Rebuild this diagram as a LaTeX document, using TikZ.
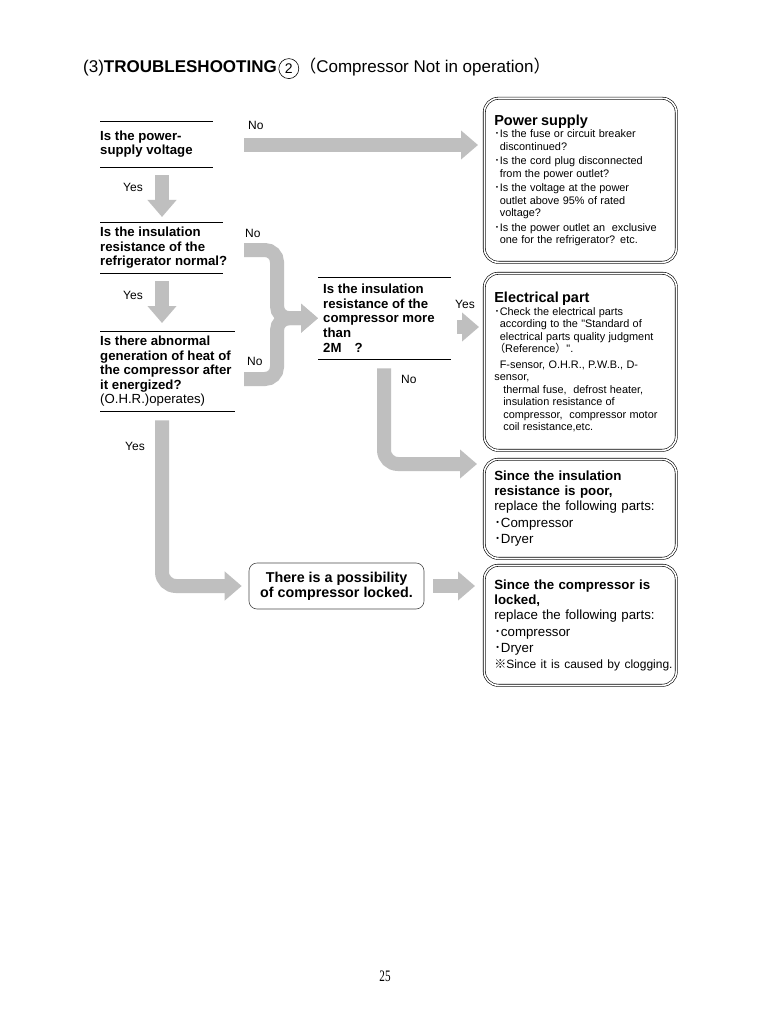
\documentclass[tikz,border=0pt]{standalone}
\usepackage{fontspec}
\setmainfont{Liberation Sans}
\newfontfamily\cjk{Noto Sans CJK JP}
\newfontfamily\pagefont{Liberation Serif}
\font\straightq="Liberation Sans" at 10.9pt
\usetikzlibrary{arrows.meta,positioning}

\newcommand{\qsize}{\fontsize{13.2pt}{14.6pt}\selectfont\bfseries}
\newcommand{\boxhead}{\fontsize{14.5pt}{16pt}\selectfont\bfseries}
\newcommand{\notesize}{\fontsize{10.9pt}{12.5pt}\selectfont}
\newcommand{\partsize}{\fontsize{13.3pt}{15pt}\selectfont}
\newcommand{\dotb}{{\cjk ･}}
\newcommand{\ind}{\hspace*{5.5pt}}
\newcommand{\dq}{{\straightq "}}

\tikzset{
    flow/.style={draw=black!25, line width=14pt, -{Triangle[width=28pt,length=17pt]}},
    question/.style={anchor=north west, align=left, inner xsep=0pt, inner ysep=0pt, font=\qsize},
    rule/.style={line width=0.7pt},
    answer/.style={anchor=base west, inner sep=0pt, font=\fontsize{12pt}{14pt}\selectfont},
    result/.style={draw, double, double distance=1.6pt, line width=0.6pt, rounded corners=14pt,
        anchor=north west, align=left, text width=172pt, inner xsep=10pt, inner ysep=0pt},
    lockbox/.style={draw=black!70, line width=0.6pt, rounded corners=8pt, align=center,
        font=\fontsize{14.3pt}{15pt}\selectfont\bfseries}
}

\begin{document}
\begin{tikzpicture}[x=1pt,y=-1pt]
    \fill[white] (0,0) rectangle (768,1024);
    \useasboundingbox (0,0) rectangle (768,1024);

    % heading
    \node[anchor=base west, inner sep=0pt, font=\fontsize{17pt}{20pt}\selectfont] (head) at (83,73) {(3)\textbf{TROUBLESHOOTING}};
    \node[draw, circle, line width=0.6pt, minimum size=20pt, inner sep=0pt, font=\fontsize{14pt}{16pt}\selectfont, right=1.5pt of head.east] (num) {2};
    \node[anchor=base west, inner sep=0pt, font=\fontsize{17pt}{20pt}\selectfont] (head2) at (num.east |- head.base) {{\cjk （}Compressor Not in operation{\cjk ）}};

    % questions
    \node[question, minimum height=46pt] (q1) at (100,121) {Is the power-\\supply voltage};
    \draw[rule] (q1.north west) -- ++(113,0);
    \draw[rule] (q1.south west) -- ++(113,0);
    \node[question, minimum height=51pt] (q2) at (100,222) {Is the insulation\\resistance of the\\refrigerator normal?};
    \draw[rule] (q2.north west) -- ++(123,0);
    \draw[rule] (q2.south west) -- ++(123,0);
    \node[question, minimum height=80pt] (q3) at (100,331) {Is there abnormal\\generation of heat of\\the compressor after\\it energized?\\{\mdseries (O.H.R.)operates)}};
    \draw[rule] (q3.north west) -- ++(135,0);
    \draw[rule] (q3.south west) -- ++(135,0);
    \node[question, minimum height=82pt, inner xsep=5pt] (q4) at (318,277) {Is the insulation\\resistance of the\\compressor more\\than\\2M\hspace{1em}?};
    \draw[rule] (q4.north west) -- ++(133,0);
    \draw[rule] (q4.south west) -- ++(133,0);

    % results
    \node[result, minimum width=192pt, minimum height=164pt] (power) at (484,98) {%
        {\boxhead Power supply\par}
        \notesize
        \dotb Is the fuse or circuit breaker\\
        \ind discontinued?\\[2pt]
        \dotb Is the cord plug disconnected\\
        \ind from the power outlet?\\[2pt]
        \dotb Is the voltage at the power\\
        \ind outlet above 95\% of rated\\
        \ind voltage?\\[2pt]
        \dotb Is the power outlet an\ \ exclusive\\
        \ind one for the refrigerator? etc.};
    \node[result, minimum width=192pt, minimum height=177pt] (elec) at (484,273) {%
        {\boxhead Electrical part\par}
        \notesize
        \dotb Check the electrical parts\\
        \ind according to the \dq Standard of\\
        \ind electrical parts quality judgment\\
        {\cjk （}Reference{\cjk ）}\dq.\\[3pt]
        \ind F-sensor, O.H.R., P.W.B., D-\\
        sensor,\\
        \hspace*{9pt}thermal fuse,\ \ defrost heater,\\
        \hspace*{9pt}insulation resistance of\\
        \hspace*{9pt}compressor,\ \ compressor motor\\
        \hspace*{9pt}coil resistance,etc.};
    \node[result, minimum width=192pt, minimum height=99pt, font=\partsize] (poor) at (484,459) {%
        {\bfseries Since the insulation\\resistance is poor,\par}
        replace the following parts:\\[2pt]
        \dotb Compressor\\[1pt]
        \dotb Dryer};
    \node[result, minimum width=192pt, minimum height=120pt, font=\partsize] (locked) at (484,565) {%
        {\bfseries Since the compressor is\\locked,\par}
        replace the following parts:\\[2pt]
        \dotb compressor\\[1pt]
        \dotb Dryer\\[1pt]
        \mbox{\fontsize{12pt}{15pt}\selectfont{\cjk ※}Since it is caused by clogging.}};
    \node[lockbox, minimum width=175pt, minimum height=46pt] (lock) at (336.5,586) {There is a possibility\\of compressor locked.};

    % connectors
    \coordinate (s1) at (244,145);
    \draw[flow, shorten >=6pt] (s1) -- (s1 -| power.west);
    \coordinate (col) at (162,0);
    \draw[flow, shorten <=8pt, shorten >=5pt] (q1.south west -| col) -- (q2.north west -| col);
    \draw[flow, shorten <=8pt, shorten >=8pt] (q2.south west -| col) -- (q3.north west -| col);
    \draw[flow, rounded corners=14pt, shorten <=9pt, shorten >=7pt] (q3.south west -| col) |- (lock.west);
    \coordinate (n2) at (244,250);
    \coordinate (n3) at (244,379);
    \coordinate (jn) at (277,0);
    \draw[flow, rounded corners=12pt] (n2) -- (n2 -| jn) -- (q4.west -| jn) -- (q4.west);
    \draw[flow, rounded corners=12pt] (n3) -- (n3 -| jn) -- (q4.west -| jn) -- (q4.west);
    \coordinate (s4) at (457,327);
    \draw[flow, shorten >=5pt] (s4) -- (s4 -| elec.west);
    \coordinate (s5) at (384,0);
    \coordinate (e5) at (0,464);
    \draw[flow, rounded corners=14pt, shorten <=9pt, shorten >=7pt] (q4.south west -| s5) |- (poor.west |- e5);
    \draw[flow, shorten <=9pt, shorten >=9pt] (lock.east) -- (lock.east -| locked.west);

    % answers
    \node[answer] (no1) at (248,130) {No};
    \node[answer] (yes1) at (123,192) {Yes};
    \node[answer] (no2) at (245,237) {No};
    \node[answer] (yes2) at (123,299) {Yes};
    \node[answer] (no3) at (247,365) {No};
    \node[answer] (yes4) at (455,308) {Yes};
    \node[answer] (no4) at (401,383) {No};
    \node[answer] (yes3) at (125,450) {Yes};

    % page number
    \node[inner sep=0pt, font=\pagefont\fontsize{16pt}{18pt}\selectfont] (page) at (385,976) {\scalebox{0.7}[1]{25}};
\end{tikzpicture}
\end{document}
